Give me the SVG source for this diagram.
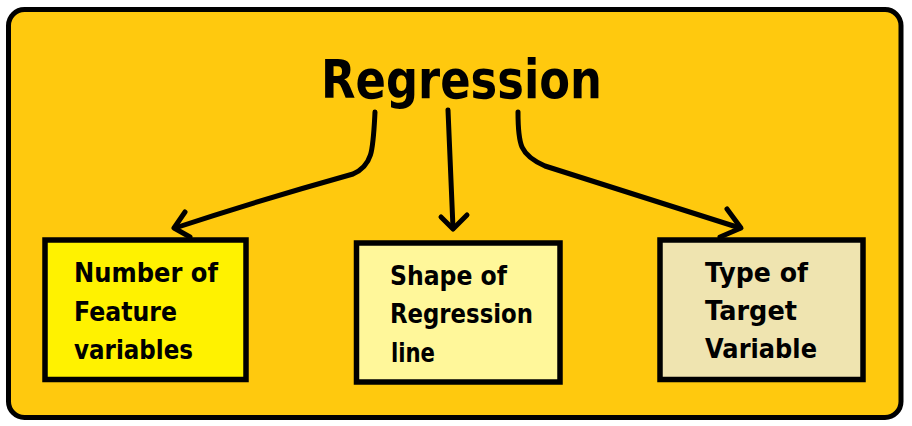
<svg xmlns="http://www.w3.org/2000/svg" width="912" height="426" viewBox="0 0 912 426">
<style>
.panel{fill:#FFC90E;stroke:#000;stroke-width:5}
.box{stroke:#000;stroke-width:5.5}
.t{font-family:"DejaVu Sans","Liberation Sans",sans-serif;font-weight:bold;fill:#000}
.lbl{font-size:27px}
.title{font-size:54px}
.arr{fill:none;stroke:#000;stroke-width:5;stroke-linecap:round;stroke-linejoin:round}
</style>
<rect width="912" height="426" fill="#fff"/>
<rect class="panel" x="8.5" y="9.5" width="892.5" height="408" rx="16" ry="16"/>
<g id="title">
<text class="t title" x="321" y="98" textLength="281" lengthAdjust="spacingAndGlyphs">Regression</text>
</g>
<g id="connectors">
<path class="arr" d="M375,112 C373,150 373,165 353,174 Q260,200 175,228"/>
<path class="arr" d="M185,212 L174,228 L190,237"/>
<path class="arr" d="M448,110 L453,228"/>
<path class="arr" d="M441,217 L453,229 L467,215"/>
<path class="arr" d="M518,112 C518,145 520,155 545,166 L740,228"/>
<path class="arr" d="M727,209 L741,228 L720,237"/>
</g>
<g id="node-features">
<rect class="box" x="45" y="240" width="201" height="139.5" fill="#FFF200"/>
<text class="t lbl" x="74" y="282" textLength="144" lengthAdjust="spacingAndGlyphs">Number of</text>
<text class="t lbl" x="74" y="321" textLength="103" lengthAdjust="spacingAndGlyphs">Feature</text>
<text class="t lbl" x="74" y="359" textLength="119" lengthAdjust="spacingAndGlyphs">variables</text>
</g>
<g id="node-shape">
<rect class="box" x="356.5" y="243" width="203.5" height="139" fill="#FFF79A"/>
<text class="t lbl" x="390" y="285" textLength="117" lengthAdjust="spacingAndGlyphs">Shape of</text>
<text class="t lbl" x="390" y="323" textLength="143" lengthAdjust="spacingAndGlyphs">Regression</text>
<text class="t lbl" x="391" y="362" textLength="44" lengthAdjust="spacingAndGlyphs">line</text>
</g>
<g id="node-target">
<rect class="box" x="660" y="240" width="203" height="139.5" fill="#EFE4B0"/>
<text class="t lbl" x="705" y="282" textLength="103" lengthAdjust="spacingAndGlyphs">Type of</text>
<text class="t lbl" x="705" y="320" textLength="92" lengthAdjust="spacingAndGlyphs">Target</text>
<text class="t lbl" x="705" y="358" textLength="112" lengthAdjust="spacingAndGlyphs">Variable</text>
</g>
</svg>
